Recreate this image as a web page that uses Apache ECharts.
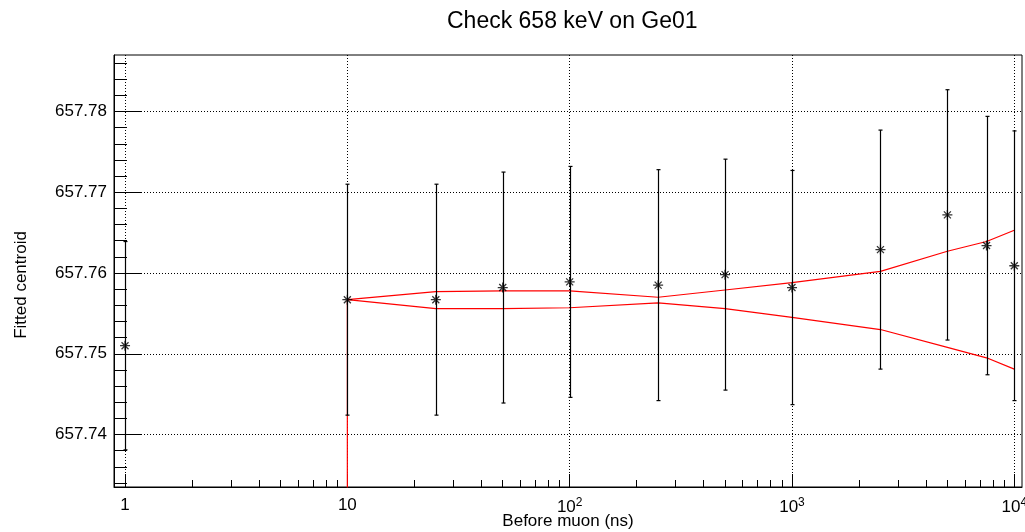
<!DOCTYPE html>
<html>
<head>
<meta charset="utf-8">
<title>Check 658 keV on Ge01</title>
<script src="https://cdn.jsdelivr.net/npm/echarts@6/dist/echarts.min.js"></script>
<style>
html, body { margin: 0; padding: 0; background: #fff; }
#chart { width: 1025px; height: 532px; }
</style>
</head>
<body>
<div id="chart"></div>
<script>
// fitted centroid vs. time window before muon
const timeBins = [1, 10, 25, 50, 100, 250, 500, 1000, 2500, 5000, 7500, 10000]
const centroids = [657.7510, 657.7567, 657.7567, 657.7582, 657.7589, 657.7585, 657.7598, 657.7582, 657.7629, 657.7672, 657.7634, 657.7609]
const centroidErrors = [0.0129, 0.0143, 0.0143, 0.0143, 0.0143, 0.0143, 0.0143, 0.0145, 0.0148, 0.0155, 0.0160, 0.0167]

// red confidence band
const bandX = [10, 25, 50, 100, 250, 500, 1000, 2500, 5000, 7500, 10000]
const bandUpper = [657.7567, 657.7577, 657.7578, 657.7578, 657.7570, 657.7579, 657.7588, 657.7602, 657.7627, 657.7639, 657.7653]
const bandLower = [657.7567, 657.7556, 657.7556, 657.7557, 657.7563, 657.7556, 657.7545, 657.7530, 657.7508, 657.7495, 657.7481]
const bandStem = [[10, 657.7567], [10, 657.7200]]

// axis ticks
const xMajorTicks = [1, 10, 100, 1000, 10000]
const xMinorTicks = [2, 3, 4, 5, 6, 7, 8, 9, 20, 30, 40, 50, 60, 70, 80, 90,
  200, 300, 400, 500, 600, 700, 800, 900, 2000, 3000, 4000, 5000, 6000, 7000, 8000, 9000]
const yMajorTicks = [657.74, 657.75, 657.76, 657.77, 657.78]
const yMinorTicks = [657.734, 657.736, 657.738, 657.742, 657.744, 657.746, 657.748,
  657.752, 657.754, 657.756, 657.758, 657.762, 657.764, 657.766, 657.768,
  657.772, 657.774, 657.776, 657.778, 657.782, 657.784, 657.786]

const xMin = 0.892
const xMax = 10830
const yMin = 657.7335
const yMax = 657.787

const font = '"Liberation Sans", Arial, Helvetica, sans-serif'
const black = '#000'

function powLabel(value) {
  if (value === 1) return '{n|1}'
  if (value === 10) return '{n|10}'
  const exp = Math.round(Math.log10(value))
  return '{n|10}{s|' + exp + '}'
}

const errorBars = timeBins.map((x, i) => [x, centroids[i] - centroidErrors[i], centroids[i] + centroidErrors[i]])
const points = timeBins.map((x, i) => [x, centroids[i]])

function renderErrorBar(params, api) {
  const x = api.value(0)
  const top = api.coord([x, api.value(2)])
  const bottom = api.coord([x, api.value(1)])
  const px = Math.round(top[0]) + 0.5
  const style = { stroke: black, lineWidth: 1.2 }
  const cap = 2
  return {
    type: 'group',
    children: [
      { type: 'line', shape: { x1: px, y1: top[1], x2: px, y2: bottom[1] }, style },
      { type: 'line', shape: { x1: px - cap, y1: top[1], x2: px + cap, y2: top[1] }, style },
      { type: 'line', shape: { x1: px - cap, y1: bottom[1], x2: px + cap, y2: bottom[1] }, style }
    ]
  }
}

const chart = echarts.init(document.getElementById('chart'))

chart.setOption({
  animation: false,
  textStyle: { fontFamily: font, color: black },
  title: {
    text: 'Check 658 keV on Ge01',
    left: 442,
    top: 5,
    textStyle: { fontFamily: font, fontSize: 23, fontWeight: 'normal', color: black }
  },
  grid: {
    left: 114, right: 3, top: 55, bottom: 45,
    show: true, borderColor: black, borderWidth: 1,
    containLabel: false, outerBoundsMode: 'none'
  },
  graphic: [{
    type: 'text',
    x: 21,
    y: 285,
    rotation: Math.PI / 2,
    style: {
      text: 'Fitted centroid',
      font: '17px ' + font,
      fill: black,
      align: 'center',
      verticalAlign: 'middle'
    }
  }],
  xAxis: [
    {
      type: 'log',
      logBase: 10,
      min: xMin,
      max: xMax,
      name: 'Before muon (ns)',
      nameLocation: 'middle',
      nameGap: 26,
      nameMoveOverlap: false,
      nameTextStyle: { fontFamily: font, fontSize: 17, color: black, verticalAlign: 'top' },
      axisLine: { show: true, onZero: false, lineStyle: { color: black, width: 1 } },
      axisTick: { inside: true, length: 13, customValues: xMajorTicks, lineStyle: { color: black } },
      axisLabel: {
        customValues: xMajorTicks,
        margin: 10,
        formatter: powLabel,
        rich: {
          n: { fontFamily: font, fontSize: 17, color: black },
          s: { fontFamily: font, fontSize: 12, color: black, padding: [0, 0, 9, 0] }
        }
      },
      splitLine: { show: true, lineStyle: { type: [1, 2], color: black, width: 1 } }
    },
    {
      type: 'log',
      logBase: 10,
      min: xMin,
      max: xMax,
      position: 'bottom',
      axisLine: { show: false },
      axisTick: { inside: true, length: 7, customValues: xMinorTicks, lineStyle: { color: black } },
      axisLabel: { show: false },
      splitLine: { show: false }
    }
  ],
  yAxis: [
    {
      type: 'value',
      min: yMin,
      max: yMax,
      axisLine: { show: true, onZero: false, lineStyle: { color: black, width: 1 } },
      axisTick: { inside: true, length: 28, customValues: yMajorTicks, lineStyle: { color: black } },
      axisLabel: {
        customValues: yMajorTicks,
        margin: 7,
        fontFamily: font,
        fontSize: 17,
        color: black,
        formatter: v => v.toFixed(2)
      },
      splitLine: { show: true, lineStyle: { type: [1, 2], color: black, width: 1 } }
    },
    {
      type: 'value',
      min: yMin,
      max: yMax,
      position: 'left',
      axisLine: { show: false },
      axisTick: { inside: true, length: 13, customValues: yMinorTicks, lineStyle: { color: black } },
      axisLabel: { show: false },
      splitLine: { show: false }
    }
  ],
  series: [
    {
      name: 'band upper',
      type: 'line',
      data: bandX.map((x, i) => [x, bandUpper[i]]),
      symbol: 'none',
      lineStyle: { color: '#ff0000', width: 1.2 },
      z: 2
    },
    {
      name: 'band lower',
      type: 'line',
      data: bandX.map((x, i) => [x, bandLower[i]]),
      symbol: 'none',
      lineStyle: { color: '#ff0000', width: 1.2 },
      z: 2
    },
    {
      name: 'band stem',
      type: 'line',
      data: bandStem,
      symbol: 'none',
      clip: true,
      lineStyle: { color: '#ff0000', width: 1.2 },
      z: 2
    },
    {
      name: 'errors',
      type: 'custom',
      renderItem: renderErrorBar,
      data: errorBars,
      encode: { x: 0, y: [1, 2] },
      z: 3
    },
    {
      name: 'centroid',
      type: 'scatter',
      data: points,
      symbol: 'path://M0,5L10,5M5,0L5,10M1.5,1.5L8.5,8.5M8.5,1.5L1.5,8.5',
      symbolSize: 10,
      itemStyle: { color: 'transparent', borderColor: black, borderWidth: 1.3 },
      z: 4
    }
  ]
})

window.addEventListener('resize', () => chart.resize())
</script>
</body>
</html>
